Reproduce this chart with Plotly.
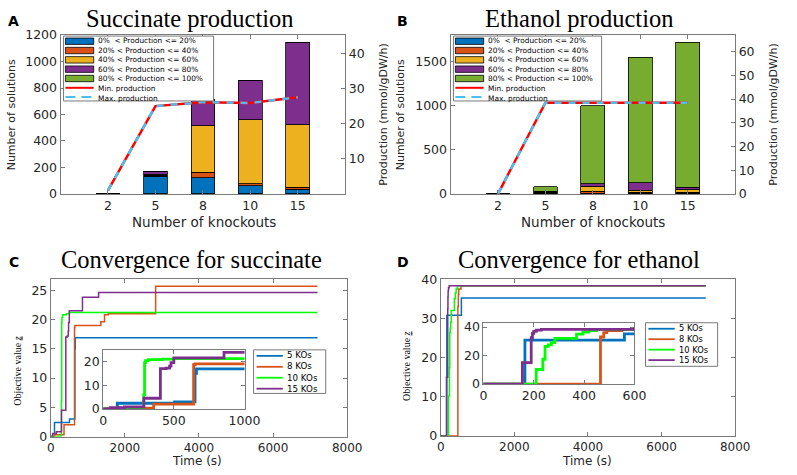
import plotly.graph_objects as go

W, H = 797, 475

# ---------------- data ----------------
knockouts = ["2", "5", "8", "10", "15"]
bin_labels = ["0%\u00a0\u00a0< Production <= 20%", "20% < Production <= 40%",
              "40% < Production <= 60%", "60% < Production <= 80%",
              "80% < Production <= 100%"]
bin_colors = ["#0072BD", "#D95319", "#EDB120", "#7E2F8E", "#77AC30"]

succ_0_20 = [3, 135, 122, 60, 35]
succ_20_40 = [0, 5, 43, 17, 15]
succ_40_60 = [0, 8, 350, 483, 473]
succ_60_80 = [0, 22, 200, 300, 622]
succ_80_100 = [0, 0, 0, 0, 0]
succ_min_prod = [1.0, 25.0, 26.1, 25.9, 27.5]
succ_max_prod = [1.0, 25.0, 26.1, 25.9, 27.5]

eth_0_20 = [0, 5, 8, 5, 5]
eth_20_40 = [0, 15, 20, 15, 15]
eth_40_60 = [0, 10, 60, 24, 25]
eth_60_80 = [0, 3, 30, 84, 28]
eth_80_100 = [0, 47, 882, 1422, 1647]
eth_min_prod = [0.0, 38.5, 38.5, 38.5, 38.5]
eth_max_prod = [0.0, 38.5, 38.5, 38.5, 38.5]

ko_labels = ["5 KOs", "8 KOs", "10 KOs", "15 KOs"]
ko_colors = ["#0072BD", "#D95319", "#00FF00", "#7E2F8E"]

c5_t = [0, 100, 505, 650, 660, 7200]
c5_z = [0, 2.4, 3.0, 15.0, 16.9, 16.9]
c8_t = [0, 100, 357, 640, 650, 1350, 1450, 1550, 2830, 7200]
c8_z = [0, 0.3, 2.0, 18.6, 19.0, 19.6, 20.8, 21.0, 25.7, 25.7]
c10_t = [0, 287, 293, 300, 320, 420, 500, 7200]
c10_z = [0, 6.0, 19.5, 20.3, 20.8, 21.0, 21.2, 21.2]
c15_t = [0, 50, 150, 288, 405, 445, 470, 480, 500, 855, 1290, 7200]
c15_z = [0, 0.5, 0.8, 4.5, 17.0, 17.2, 18.0, 19.5, 21.5, 23.8, 24.6, 24.6]

e5_t = [0, 165, 560, 7200]
e5_z = [0, 30.8, 35.2, 35.2]
e8_t = [0, 465, 478, 490, 550, 7200]
e8_z = [0, 33.0, 36.0, 37.5, 38.3, 38.3]
e10_t = [0, 210, 236, 245, 258, 270, 284, 370, 395, 419, 450, 7200]
e10_z = [0, 10.2, 17.4, 26.4, 27.5, 29.0, 32.0, 35.0, 36.5, 37.5, 38.3, 38.3]
e15_t = [0, 155, 190, 195, 200, 210, 230, 7200]
e15_z = [0, 15.0, 32.5, 35.5, 37.0, 37.8, 38.3, 38.3]

# ---------------- helpers ----------------
def px(x):
    return x / W

def py(y):
    return 1 - y / H

FRAME = "#7a7a7a"
TXT = "#262626"
SANS = "DejaVu Sans"
SERIF = "Liberation Serif"
tickfont = dict(family=SANS, size=12.5, color=TXT)
tickfont_small = dict(family=SANS, size=12, color=TXT)

def ax(**kw):
    d = dict(showline=True, linecolor=FRAME, linewidth=1, ticks="inside",
             ticklen=4, tickcolor=FRAME, tickfont=tickfont, showgrid=False,
             zeroline=False, fixedrange=True)
    d.update(kw)
    return d

fig = go.Figure()

# ---- panel A & B bars + lines ----
succ_bins = [succ_0_20, succ_20_40, succ_40_60, succ_60_80, succ_80_100]
eth_bins = [eth_0_20, eth_20_40, eth_40_60, eth_60_80, eth_80_100]
for vals, xa, ya in [(succ_bins, "x", "y"), (eth_bins, "x2", "y3")]:
    for lab, col, v in zip(bin_labels, bin_colors, vals):
        fig.add_trace(go.Bar(x=knockouts, y=v, name=lab, width=0.5,
                             marker=dict(color=col, line=dict(color="black", width=0.8)),
                             xaxis=xa, yaxis=ya, showlegend=False))

for mn, mx, xa, ya in [(succ_min_prod, succ_max_prod, "x", "y2"),
                       (eth_min_prod, eth_max_prod, "x2", "y4")]:
    fig.add_trace(go.Scatter(x=knockouts, y=mn, mode="lines", name="Min. production",
                             line=dict(color="#FF0000", width=2.5),
                             xaxis=xa, yaxis=ya, showlegend=False))
    fig.add_trace(go.Scatter(x=knockouts, y=mx, mode="lines", name="Max. production",
                             line=dict(color="#4DBEEE", width=2.5, dash="7px,7px"),
                             xaxis=xa, yaxis=ya, showlegend=False))

# ---- panel C & D convergence (main + inset) ----
succ_series = [(c5_t, c5_z), (c8_t, c8_z), (c10_t, c10_z), (c15_t, c15_z)]
eth_series = [(e5_t, e5_z), (e8_t, e8_z), (e10_t, e10_z), (e15_t, e15_z)]
for series, xa, ya, w in [(succ_series, "x3", "y5", 1.5), (eth_series, "x4", "y6", 1.5),
                          (succ_series, "x5", "y7", 2.8), (eth_series, "x6", "y8", 2.8)]:
    for lab, col, (t, z) in zip(ko_labels, ko_colors, series):
        fig.add_trace(go.Scatter(x=t, y=z, mode="lines", name=lab, line_shape="hv",
                                 line=dict(color=col, width=w),
                                 xaxis=xa, yaxis=ya, showlegend=False))

# ---------------- axes ----------------
layout = dict(
    width=W, height=H, margin=dict(l=0, r=0, t=0, b=0),
    paper_bgcolor="white", plot_bgcolor="white", barmode="stack", showlegend=False,
    xaxis=ax(domain=[px(58), px(350)], anchor="y", type="category", range=[-1, 5], mirror="ticks"),
    yaxis=ax(domain=[py(192), py(28)], anchor="x", range=[0, 1200], dtick=200),
    yaxis2=ax(overlaying="y", side="right", anchor="x", range=[0, 45.2], tickvals=[10, 20, 30, 40]),
    xaxis2=ax(domain=[px(458), px(750)], anchor="y3", type="category", range=[-1, 5], mirror="ticks"),
    yaxis3=ax(domain=[py(192), py(28)], anchor="x2", range=[0, 1800], tickvals=[0, 500, 1000, 1500]),
    yaxis4=ax(overlaying="y3", side="right", anchor="x2", range=[0, 67], dtick=10),
    xaxis3=ax(domain=[px(48), px(352)], anchor="y5", range=[0, 8000], dtick=2000, mirror="ticks",
              tickfont=tickfont_small),
    yaxis5=ax(domain=[py(442.5), py(280)], anchor="x3", range=[0, 26.9], dtick=5, mirror="ticks"),
    xaxis4=ax(domain=[px(448), px(750)], anchor="y6", range=[0, 8000], dtick=2000, mirror="ticks",
              tickfont=tickfont_small),
    yaxis6=ax(domain=[py(442), py(280)], anchor="x4", range=[0, 40], dtick=10, mirror="ticks"),
    xaxis5=ax(domain=[px(101.7), px(246.7)], anchor="y7", range=[0, 1000], dtick=500, mirror="ticks"),
    yaxis7=ax(domain=[py(414), py(352.7)], anchor="x5", range=[0, 25], tickvals=[0, 10, 20], mirror="ticks"),
    xaxis6=ax(domain=[px(491.7), px(646.7)], anchor="y8", range=[0, 600], dtick=200, mirror="ticks"),
    yaxis8=ax(domain=[py(388.3), py(325)], anchor="x6", range=[0, 43], tickvals=[0, 20, 40], mirror="ticks"),
)
fig.update_layout(**layout)

# ---------------- text ----------------
ann = []
def text(x, y, s, size, family=SANS, xanchor="center", angle=0, color=TXT, yanchor="middle"):
    ann.append(dict(x=px(x), y=py(y), xref="paper", yref="paper", text=s, showarrow=False,
                    xanchor=xanchor, yanchor=yanchor, textangle=angle, align="left",
                    font=dict(family=family, size=size, color=color)))

# panel letters
for lt, x, y in [("A", 10, 13), ("B", 409, 13), ("C", 10, 262), ("D", 409, 262)]:
    text(x, y, "<b>" + lt + "</b>", 14, color="black")
# titles
text(191, 11, "Succinate production", 24.5, SERIF, color="black")
text(590, 11, "Ethanol production", 24.5, SERIF, color="black")
text(192, 260, "Convergence for succinate", 24.5, SERIF, color="black")
text(590, 260, "Convergence for ethanol", 24.5, SERIF, color="black")
# axis titles
text(205, 220.5, "Number of knockouts", 13.5)
text(604, 220.5, "Number of knockouts", 13.5)
text(8, 110, "Number of solutions", 11, angle=-90)
text(407, 110, "Number of solutions", 11, angle=-90)
text(389, 110, "Production (mmol/gDW/h)", 11, angle=-90)
text(789, 110, "Production (mmol/gDW/h)", 11, angle=-90)
text(198, 467.5, "Time (s)", 12)
text(598, 467.5, "Time (s)", 12)
text(13, 375, "Objective value <u><i>z</i></u>", 10, SERIF, angle=-90, color="black")
text(413, 370, "Objective value <u><i>z</i></u>", 10, SERIF, angle=-90, color="black")

# ---------------- manual legends ----------------
shapes = []
LEG_FS = 7.4
LEG_STEP = LEG_FS * 1.3

def bar_legend(x0, x1, y0, y1):
    shapes.append(dict(type="rect", xref="paper", yref="paper", x0=px(x0), x1=px(x1),
                       y0=py(y1), y1=py(y0), line=dict(color=FRAME, width=1), fillcolor="white", layer="above"))
    rows = [y0 + 5.3 + LEG_STEP * i for i in range(7)]
    for i, col in enumerate(bin_colors):
        shapes.append(dict(type="rect", xref="paper", yref="paper", x0=px(x0 + 2), x1=px(x0 + 31),
                           y0=py(rows[i] + 3.3), y1=py(rows[i] - 3.3),
                           line=dict(color="black", width=0.8), fillcolor=col, layer="above"))
    shapes.append(dict(type="line", xref="paper", yref="paper", x0=px(x0 + 2), x1=px(x0 + 31),
                       y0=py(rows[5]), y1=py(rows[5]), line=dict(color="#FF0000", width=2), layer="above"))
    shapes.append(dict(type="line", xref="paper", yref="paper", x0=px(x0 + 2), x1=px(x0 + 31),
                       y0=py(rows[6]), y1=py(rows[6]),
                       line=dict(color="#4DBEEE", width=2, dash="10px,6px"), layer="above"))
    labels = bin_labels + ["Min. production", "Max. production"]
    text(x0 + 33, (rows[0] + rows[6]) / 2, "<br>".join(labels), LEG_FS, xanchor="left", color="black")

bar_legend(61, 215, 29, 96)
bar_legend(461, 613, 29, 96)

def ko_legend(x0, x1, y0, y1, step):
    shapes.append(dict(type="rect", xref="paper", yref="paper", x0=px(x0), x1=px(x1),
                       y0=py(y1), y1=py(y0), line=dict(color=FRAME, width=1), fillcolor="white", layer="above"))
    rows = [y0 + 6.2 + step * i for i in range(4)]
    for col, r in zip(ko_colors, rows):
        shapes.append(dict(type="line", xref="paper", yref="paper", x0=px(x0 + 3), x1=px(x0 + 30),
                           y0=py(r), y1=py(r), line=dict(color=col, width=1.8), layer="above"))
    text(x0 + 32, (rows[0] + rows[3]) / 2, "<br>".join(ko_labels), step / 1.3, xanchor="left", color="black")

ko_legend(256, 330, 353, 398, 11.3)
ko_legend(658, 732, 325, 370, 10.8)

fig.update_layout(annotations=ann, shapes=shapes)
fig.write_html("out.html", config={"displayModeBar": False},
               post_script="document.body.style.margin='0';document.body.style.overflow='hidden';")
